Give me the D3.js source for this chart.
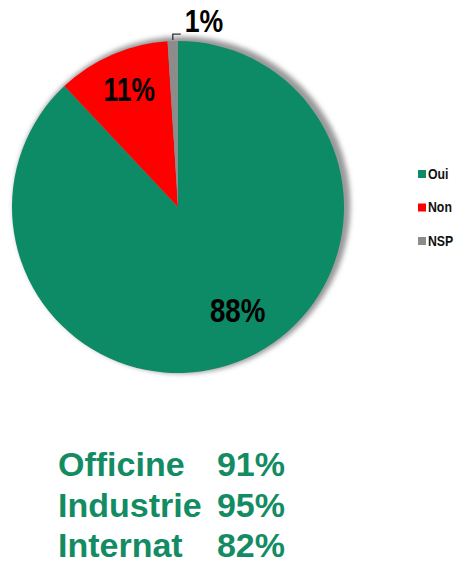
<!DOCTYPE html>
<html><head><meta charset="utf-8">
<script src="https://cdn.jsdelivr.net/npm/d3@7"></script>
<style>html,body{margin:0;padding:0;background:#fff;}svg{display:block;}</style>
</head><body>
<svg id="c" width="470" height="569"></svg>
<script>
const categories = ["Oui", "Non", "NSP"];
const values = [88, 11, 1];
const valueLabels = ["88%", "11%", "1%"];
const colors = ["#0d8a66", "#ff0000", "#8c8c8c"];
const subCategories = ["Officine", "Industrie", "Internat"];
const subValues = ["91%", "95%", "82%"];

const svg = d3.select("#c");
const cx = 178, cy = 207, r = 166;
const font = "'Liberation Sans',Arial,sans-serif";

const defs = svg.append("defs");
const f = defs.append("filter").attr("id","sh").attr("x","-20%").attr("y","-20%").attr("width","140%").attr("height","140%");
f.append("feGaussianBlur").attr("stdDeviation", 2.5);

const pie = d3.pie().sort(null).value(d => d).startAngle(0).endAngle(2*Math.PI);
const arcs = pie(values);
const arc = d3.arc().innerRadius(0).outerRadius(r);

const g = svg.append("g").attr("transform", `translate(${cx},${cy})`);
g.append("circle").attr("cx", 4).attr("cy", -2).attr("r", r + 2.5).attr("fill", "#999").attr("filter", "url(#sh)");
g.selectAll("path.s").data(arcs).join("path").attr("class","s")
  .attr("d", arc).attr("fill", (d,i) => colors[i]);

function narrowText(parent, x, y, txt, size, anchor, sx) {
  const t = parent.append("g").attr("transform", `translate(${x},${y}) scale(${sx},1)`);
  t.append("text").attr("x",0).attr("y",0).attr("text-anchor",anchor).attr("dominant-baseline","central")
    .attr("font-family", font).attr("font-weight","bold").attr("font-size", size).attr("fill","#000").text(txt);
  return t;
}

// labels (positions derived from slice centroids)
const lab0 = d3.arc().innerRadius(r*0.78).outerRadius(r*0.78).centroid(arcs[0]);
narrowText(g, lab0[0] + 12, lab0[1] - 17, valueLabels[0], 33, "middle", 0.84);
const lab1 = d3.arc().innerRadius(r*0.74).outerRadius(r*0.74).centroid(arcs[1]);
narrowText(g, lab1[0], lab1[1] - 5, valueLabels[1], 33, "middle", 0.8);
// NSP label with leader
const a2 = (arcs[2].startAngle + arcs[2].endAngle)/2;
const px = Math.sin(a2)*r, py = -Math.cos(a2)*r;
g.append("path").attr("d", `M${px},${py-1} L${px},${py-7} L${px+8},${py-7}`)
  .attr("fill","none").attr("stroke","#333").attr("stroke-width",1.3);
narrowText(g, px+12, py-20, valueLabels[2], 31, "start", 0.86);

// legend
const lg = svg.append("g").attr("transform","translate(418,174)");
categories.forEach((c,i) => {
  const row = lg.append("g").attr("transform", `translate(0,${i*33.5})`);
  row.append("rect").attr("x",0).attr("y",-4).attr("width",8).attr("height",8).attr("fill",colors[i]);
  const t = row.append("g").attr("transform","translate(10,0) scale(0.82,1)");
  t.append("text").attr("x",0).attr("y",0).attr("dominant-baseline","central")
    .attr("font-family", font).attr("font-weight","bold").attr("font-size",15).attr("fill","#111").text(c);
});

// bottom text
const bt = svg.append("g");
subCategories.forEach((c,i) => {
  const y = 464 + i*40.5;
  bt.append("text").attr("x",58).attr("y",y).attr("dominant-baseline","central")
    .attr("font-family",font).attr("font-weight","bold").attr("font-size",34)
    .attr("fill","#138b63").text(c);
  bt.append("text").attr("x",285).attr("y",y).attr("text-anchor","end").attr("dominant-baseline","central")
    .attr("font-family",font).attr("font-weight","bold").attr("font-size",34)
    .attr("fill","#138b63").text(subValues[i]);
});
</script>
</body></html>
